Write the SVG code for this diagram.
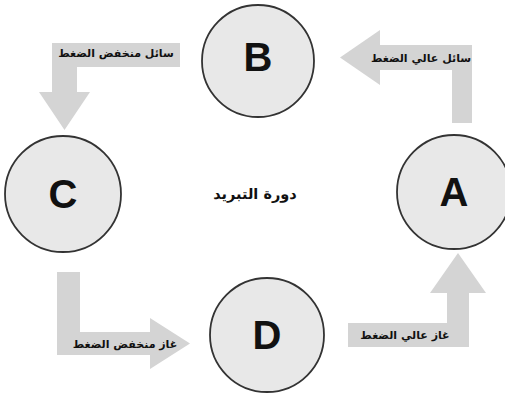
<svg xmlns="http://www.w3.org/2000/svg" width="505" height="397" viewBox="0 0 505 397">
<style>
.arrow{fill:#d4d4d4;stroke:none}
.node circle{fill:#e8e8e8;stroke:#333;stroke-width:1.8}
.node text{font-family:"Liberation Sans",Arial,sans-serif;font-weight:bold;font-size:40px;fill:#111;text-anchor:middle}
.lbl{font-family:"DejaVu Sans","Noto Sans",sans-serif;font-weight:bold;font-size:11px;fill:#111;text-anchor:middle;direction:rtl}
.title{font-family:"DejaVu Sans","Noto Sans",sans-serif;font-weight:bold;font-size:14.5px;fill:#111;text-anchor:middle;direction:rtl}
</style>
<rect width="505" height="397" fill="#fff"/>
<g id="connectors">
<path class="arrow" d="M472,123 L472,45 L380,45 L380,30 L340,57.5 L380,85 L380,70 L452,70 L452,123 Z"/>
<path class="arrow" d="M180,43 L180,67 L77,67 L77,92 L90,92 L64.5,130 L39,92 L52,92 L52,43 Z"/>
<path class="arrow" d="M57,272 L80,272 L80,332 L150,332 L150,318 L190,343.5 L150,369 L150,355 L57,355 Z"/>
<path class="arrow" d="M348,323 L447,323 L447,293 L430,293 L458,253 L486,293 L469,293 L469,347 L348,347 Z"/>
<text class="lbl" x="421" y="62">سائل عالي الضغط</text>
<text class="lbl" x="116" y="57">سائل منخفض الضغط</text>
<text class="lbl" x="125" y="348">غاز منخفض الضغط</text>
<text class="lbl" x="405" y="339">غاز عالي الضغط</text>
</g>
<g id="node-B" class="node"><circle cx="258" cy="61" r="56"/><text x="258" y="71">B</text></g>
<g id="node-C" class="node"><circle cx="63" cy="194" r="58"/><text x="63" y="208">C</text></g>
<g id="node-A" class="node"><circle cx="454" cy="192" r="57"/><text x="454" y="206">A</text></g>
<g id="node-D" class="node"><circle cx="267" cy="335" r="57"/><text x="267" y="349">D</text></g>
<text class="title" x="255" y="199">دورة التبريد</text>
</svg>
